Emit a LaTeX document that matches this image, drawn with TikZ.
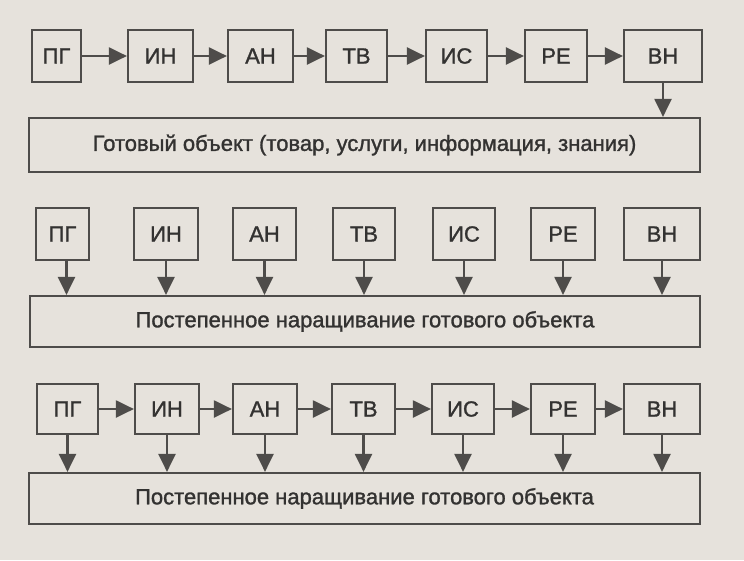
\documentclass[tikz,border=0pt]{standalone}
\usepackage{fontspec}
\setmainfont{Liberation Sans}[FakeBold=1]
\newfontfamily\lbl{Liberation Sans}[FakeBold=1.3]
\usetikzlibrary{arrows.meta}
\definecolor{bg}{HTML}{E6E2DC}
\definecolor{ink}{HTML}{4E4C4A}
\definecolor{txt}{HTML}{333231}
\tikzset{
  box/.style={draw=ink, line width=2.2pt, fill=bg, inner sep=0pt, text=txt, font=\lbl\fontsize{22}{25}\selectfont},
  arr/.style={draw=ink, line width=2.2pt, -{Triangle[length=18pt,width=17pt]}}
}
\newcommand\bx[6]{\node[box, minimum width={(#4-#3)*1pt}, minimum height={(#6-#5)*1pt}] (#1) at ({(#3+#4)/2},{(#5+#6)/2}) {#2};}
\begin{document}
\begin{tikzpicture}[x=1pt,y=-1pt]
\fill[bg] (0,0) rectangle (744,560);
\useasboundingbox (0,0) rectangle (744,560);
% row 1
\bx{a1}{ПГ}{32}{81}{30}{82}
\bx{a2}{ИН}{128}{193}{30}{82}
\bx{a3}{АН}{228}{293}{30}{82}
\bx{a4}{ТВ}{326}{387}{30}{82}
\bx{a5}{ИС}{426}{487}{30}{82}
\bx{a6}{РЕ}{525}{587}{30}{82}
\bx{a7}{ВН}{624}{702}{30}{82}
\bx{A}{Готовый объект (товар, услуги, информация, знания)}{29}{700}{118}{172}
\foreach \i/\j in {a1/a2,a2/a3,a3/a4,a4/a5,a5/a6,a6/a7} \draw[arr] (\i) -- (\j);
\draw[arr] (a7.south) -- (a7.south |- A.north);
% row 2
\bx{b1}{ПГ}{36}{89}{208}{260}
\bx{b2}{ИН}{134}{198}{208}{260}
\bx{b3}{АН}{233}{296}{208}{260}
\bx{b4}{ТВ}{333}{395}{208}{260}
\bx{b5}{ИС}{433}{495}{208}{260}
\bx{b6}{РЕ}{531}{595}{208}{260}
\bx{b7}{ВН}{624}{700}{208}{260}
\bx{B}{Постепенное наращивание готового объекта}{30}{700}{296}{347}
\draw[arr] ([xshift=4pt]b1.south) -- ([xshift=4pt]b1.south |- B.north);
\foreach \i in {b2,b3,b4,b5,b6,b7} \draw[arr] (\i.south) -- (\i.south |- B.north);
% row 3
\bx{c1}{ПГ}{37}{98}{384}{434}
\bx{c2}{ИН}{135}{199}{384}{434}
\bx{c3}{АН}{233}{297}{384}{434}
\bx{c4}{ТВ}{332}{395}{384}{434}
\bx{c5}{ИС}{432}{494}{384}{434}
\bx{c6}{РЕ}{531}{595}{384}{434}
\bx{c7}{ВН}{624}{700}{384}{434}
\bx{C}{Постепенное наращивание готового объекта}{29}{700}{473}{524}
\foreach \i/\j in {c1/c2,c2/c3,c3/c4,c4/c5,c5/c6,c6/c7} \draw[arr] (\i) -- (\j);
\foreach \i in {c1,c2,c3,c4,c5,c6,c7} \draw[arr] (\i.south) -- (\i.south |- C.north);
\end{tikzpicture}
\end{document}
